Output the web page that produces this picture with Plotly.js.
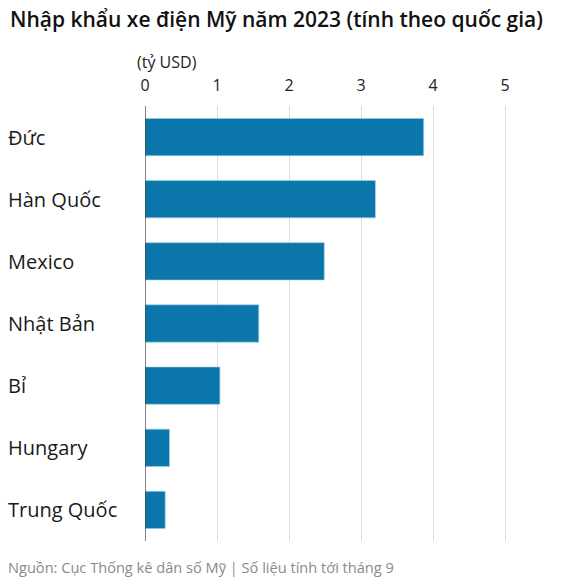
<!DOCTYPE html>
<html>
<head>
<meta charset="utf-8">
<script src="https://cdn.plot.ly/plotly-3.0.1.min.js"></script>
<style>html,body{margin:0;padding:0;background:#fff;}#chart{width:563px;height:580px;}</style>
</head>
<body>
<div id="chart"></div>
<script>
const countries = ["Đức", "Hàn Quốc", "Mexico", "Nhật Bản", "Bỉ", "Hungary", "Trung Quốc"];
const importValues = [3.87, 3.20, 2.49, 1.58, 1.04, 0.34, 0.28];
const tickValues = [0, 1, 2, 3, 4, 5];
const tickLabels = ["0", "1", "2", "3", "4", "5"];
const titleText = "Nhập khẩu xe điện Mỹ năm 2023 (tính theo quốc gia)";
const unitText = "(tỷ USD)";
const sourceText = "Nguồn: Cục Thống kê dân số Mỹ | Số liệu tính tới tháng 9";

const W = 563, H = 580;
const mL = 144.7, mR = 22.3, mT = 106, mB = 39;
const plotW = W - mL - mR;

const FONT = "Open Sans, Noto Sans, sans-serif";

const labelAnns = countries.map((c, i) => ({
  text: c, xref: "paper", yref: "y", x: (6 - mL) / plotW, y: c,
  xanchor: "left", yanchor: "middle", showarrow: false,
  font: {family: FONT, size: 20, color: "#1a1a1a"}
}));

const data = [{
  type: "bar", orientation: "h",
  x: importValues, y: countries,
  width: 0.6,
  marker: {color: "#0b76a9", line: {color: "#9fd0e8", width: 0.6}},
  hoverinfo: "none"
}];

const layout = {
  width: W, height: H,
  margin: {l: mL, r: mR, t: mT, b: mB, pad: 0},
  paper_bgcolor: "#fff", plot_bgcolor: "#fff",
  showlegend: false,
  title: {
    text: titleText, xref: "container", yref: "container",
    x: 10 / W, xanchor: "left", y: 1 - 20 / H, yanchor: "middle",
    font: {family: FONT, size: 21, color: "#111", weight: 600}
  },
  xaxis: {
    side: "top", range: [0, 5.5],
    tickvals: tickValues, ticktext: tickLabels,
    showgrid: true, gridcolor: "#dcdcdc", gridwidth: 1,
    zeroline: false, showline: false,
    ticks: "outside", ticklen: 8, tickcolor: "rgba(0,0,0,0)",
    tickfont: {family: FONT, size: 16, color: "#222"},
    fixedrange: true
  },
  yaxis: {
    type: "category", autorange: false, range: [6.5, -0.5],
    categoryorder: "array", categoryarray: countries,
    showticklabels: false, showgrid: false, zeroline: false,
    showline: false, ticks: "", fixedrange: true
  },
  shapes: [{
    type: "line", xref: "x", yref: "paper", x0: 0, x1: 0, y0: 0, y1: 1,
    line: {color: "#333", width: 1.2}
  }],
  annotations: labelAnns.concat([
    {text: unitText, xref: "paper", yref: "paper", x: (135 - mL) / plotW, xanchor: "left",
     y: 1 + (mT - 62) / (H - mT - mB), yanchor: "middle", showarrow: false,
     font: {family: FONT, size: 16, color: "#222"}},
    {text: sourceText, xref: "paper", yref: "paper", x: (6 - mL) / plotW, xanchor: "left",
     y: -(567 - (H - mB)) / (H - mT - mB), yanchor: "middle", showarrow: false,
     font: {family: FONT, size: 14.6, color: "#8a8a8a"}}
  ])
};

Plotly.newPlot("chart", data, layout, {displayModeBar: false, staticPlot: true});
</script>
</body>
</html>
